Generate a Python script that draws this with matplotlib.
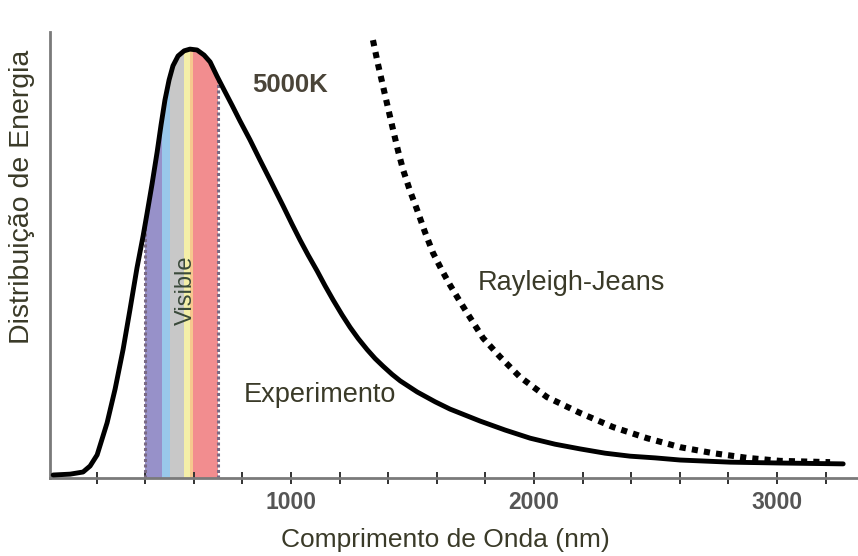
import numpy as np
import matplotlib
matplotlib.use('Agg')
import matplotlib.pyplot as plt
from matplotlib.patches import Polygon
from matplotlib.ticker import MultipleLocator, FuncFormatter

plt.rcParams['font.family'] = ['Liberation Sans', 'DejaVu Sans']

exp_nm = [21, 91, 144, 173, 202, 243, 276, 309, 337, 366, 391, 407, 428, 449,
          465, 481, 498, 514, 535, 560, 584, 613, 642, 667, 695, 724, 757, 790,
          831, 872, 914, 967, 1004, 1037, 1070, 1107, 1140, 1173, 1210, 1243,
          1276, 1313, 1346, 1379, 1416, 1449, 1519, 1593, 1654, 1778, 1881,
          1984, 2086, 2189, 2292, 2395, 2498, 2601, 2807, 3012, 3272]
exp_e = [0.007, 0.009, 0.014, 0.028, 0.054, 0.129, 0.208, 0.301, 0.393, 0.491,
         0.565, 0.617, 0.687, 0.762, 0.825, 0.883, 0.930, 0.963, 0.986, 0.998,
         1.002, 1.000, 0.988, 0.972, 0.939, 0.907, 0.871, 0.834, 0.790, 0.743,
         0.696, 0.636, 0.593, 0.556, 0.521, 0.484, 0.449, 0.416, 0.381, 0.352,
         0.326, 0.300, 0.279, 0.261, 0.242, 0.227, 0.201, 0.178, 0.161, 0.133,
         0.112, 0.093, 0.079, 0.068, 0.058, 0.051, 0.047, 0.042, 0.037, 0.035,
         0.033]

# Rayleigh-Jeans prediction (dotted)
rj_nm = [1337, 1358, 1379, 1400, 1420, 1440, 1461, 1490, 1519, 1550, 1584,
         1620, 1654, 1690, 1724, 1790, 1860, 1942, 2053, 2189, 2325, 2465,
         2601, 2737, 2877, 3012, 3218]
rj_e = [1.023, 0.966, 0.914, 0.862, 0.813, 0.765, 0.720, 0.670, 0.626, 0.576,
        0.526, 0.486, 0.451, 0.417, 0.386, 0.327, 0.283, 0.236, 0.189, 0.152,
        0.119, 0.093, 0.072, 0.058, 0.047, 0.040, 0.037]

# visible band strips (nm)
band_edges = [400, 470, 500, 558, 585, 595, 700]
band_colors = ['#9791c9', '#99c8ea', '#c8c8c8', '#f4efa8', '#f6c88e', '#f28d8f']

tick_labels = {1000: '1000', 2000: '2000', 3000: '3000'}

fig = plt.figure(figsize=(8.58, 5.56), dpi=100)
ax = fig.add_axes([50 / 858, 1 - 478 / 556, 808 / 858, 446 / 556])

# area under the curve, used to clip the coloured strips
under = Polygon(np.column_stack([[exp_nm[0]] + exp_nm + [exp_nm[-1]],
                                 [0] + exp_e + [0]]),
                closed=True, facecolor='none', edgecolor='none',
                transform=ax.transData)
ax.add_patch(under)

for i in range(len(band_colors)):
    span = ax.axvspan(band_edges[i], band_edges[i + 1], color=band_colors[i],
                      lw=0, zorder=1)
    span.set_clip_path(under)

for edge in [band_edges[0], band_edges[-1]]:
    vl = ax.axvline(edge, color='#7a6a84', linestyle=(0, (1, 0.8)), lw=2.2,
                    zorder=2)
    vl.set_clip_path(under)

ax.plot(exp_nm, exp_e, color='black', lw=3.5, solid_capstyle='round',
        solid_joinstyle='round', zorder=4)
ax.plot(rj_nm, rj_e, color='black', lw=4.4, linestyle=(0, (1, 1.0)),
        dash_capstyle='butt', zorder=4)

ax.set_xlim(8, 3333)
ax.set_ylim(0, 1.042)

for s in ['top', 'right']:
    ax.spines[s].set_visible(False)
for s in ['left', 'bottom']:
    ax.spines[s].set_color('#7a7a7a')
    ax.spines[s].set_linewidth(2.0)

ax.set_yticks([])
ax.xaxis.set_major_locator(MultipleLocator(200))
ax.xaxis.set_major_formatter(FuncFormatter(lambda v, p: tick_labels.get(int(round(v)), '')))
ax.tick_params(axis='x', direction='inout', length=9, width=1.4, color='#333333',
               labelsize=16.5, labelcolor='#555555', pad=5)
for lab in ax.get_xticklabels():
    lab.set_fontweight('bold')

txt = '#3a3a28'
fig.text(290 / 858, 1 - 85 / 556, '5000K', ha='center', va='center',
         fontsize=18.5, color='#4a4438', fontweight='bold')
fig.text(571 / 858, 1 - 283 / 556, 'Rayleigh-Jeans', ha='center', va='center',
         fontsize=19.5, color=txt)
fig.text(320 / 858, 1 - 395 / 556, 'Experimento', ha='center', va='center',
         fontsize=19.5, color=txt)
fig.text(186 / 858, 1 - 290 / 556, 'Visible', ha='center', va='center',
         fontsize=17, color='#3a4a3a', rotation=90)

fig.text(445 / 858, 1 - 540 / 556, 'Comprimento de Onda (nm)', ha='center',
         va='center', fontsize=19, color=txt)
fig.text(22 / 858, 1 - 197 / 556, 'Distribuição de Energia', ha='center',
         va='center', fontsize=20.5, color=txt, rotation=90)

plt.savefig('out.png', dpi=100)
